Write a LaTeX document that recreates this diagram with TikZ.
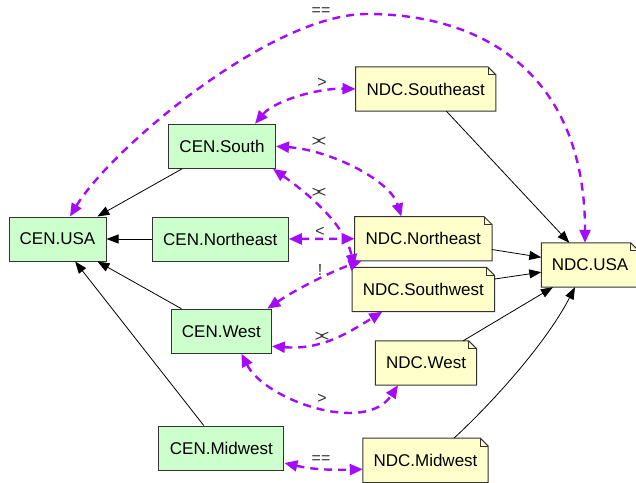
\documentclass[tikz,border=0pt]{standalone}
\usepackage{fontspec}
\setmainfont{Liberation Sans}
\usetikzlibrary{arrows.meta,backgrounds}
\definecolor{cenfill}{RGB}{204,255,204}
\definecolor{ndcfill}{RGB}{255,255,204}
\definecolor{relcol}{RGB}{165,10,250}
\definecolor{boxline}{RGB}{51,51,51}
\tikzset{
 base/.style={inner sep=0pt, minimum height=44pt, font=\fontsize{17}{20}\selectfont, text=black},
 cen/.style={base, rectangle, fill=cenfill, draw=boxline, line width=1pt},
 ndc/.style={base, rectangle},
 lab/.style={font=\fontsize{16}{19}\selectfont, text=black!80, inner sep=0pt},
 dep/.style={-{Triangle[length=12pt,width=9pt]}, line width=0.8pt, black},
 relx/.style={{Triangle[length=13pt,width=11pt]}-{Triangle[length=13pt,width=11pt]}, relcol, line width=2.4pt, dash pattern=on 8pt off 6pt},
}
\newcommand\notebg[1]{%
 \filldraw[fill=ndcfill, draw=boxline, line width=1pt, line join=miter]
   (#1.north west) -- ([xshift=-8pt]#1.north east) -- ([yshift=-8pt]#1.north east)
   -- (#1.south east) -- (#1.south west) -- cycle;
 \draw[boxline, line width=0.7pt] ([xshift=-8pt]#1.north east) -- ([xshift=-8pt,yshift=-8pt]#1.north east) -- ([yshift=-8pt]#1.north east);}
\newcommand\crossx{>\kern-0.28em<}
\begin{document}
\begin{tikzpicture}[x=1pt,y=-1pt]
\useasboundingbox (0,0) rectangle (636,482);
% CEN nodes
\node[cen, minimum width=97pt]  (cusa)   at (57.5,239) {CEN.USA};
\node[cen, minimum width=136pt] (cne)    at (220.3,239) {CEN.Northeast};
\node[cen, minimum width=107pt] (csouth) at (222,146.3) {CEN.South};
\node[cen, minimum width=100pt] (cwest)  at (221.4,331.2) {CEN.West};
\node[cen, minimum width=125pt] (cmid)   at (221.4,448) {CEN.Midwest};
% NDC nodes
\node[ndc, minimum width=140pt] (nse)   at (425.7,89) {NDC.Southeast};
\node[ndc, minimum width=137pt] (nne)   at (423.3,238.7) {NDC.Northeast};
\node[ndc, minimum width=142pt] (nsw)   at (423.3,289.5) {NDC.Southwest};
\node[ndc, minimum width=97pt]  (nusa)  at (590,265) {NDC.USA};
\node[ndc, minimum width=101pt] (nwest) at (426,363) {NDC.West};
\node[ndc, minimum width=125pt] (nmid)  at (425.5,460.3) {NDC.Midwest};
\begin{scope}[on background layer]
 \notebg{nse}\notebg{nne}\notebg{nsw}\notebg{nusa}\notebg{nwest}\notebg{nmid}
\end{scope}
% black dependency edges
\draw[dep] (csouth) -- (cusa);
\draw[dep] (cne) -- (cusa);
\draw[dep] (cwest) -- (cusa);
\draw[dep] (cmid) -- (cusa);
\draw[dep] (nse) -- (nusa);
\draw[dep] (nne) -- (nusa);
\draw[dep] (nsw) -- (nusa);
\draw[dep] (nwest) -- (nusa);
\draw[dep] ([xshift=28.5pt]nmid.north) .. controls (490,405) and (545,345) .. ([xshift=-15pt]nusa.south);
% purple relation edges
\draw[relx] ([xshift=12.5pt]cusa.north) .. controls (110,150) and (270,14) .. (367,14)
  .. controls (490,14) and (585,80) .. ([xshift=-5pt]nusa.north);
\draw[relx] ([xshift=33pt]csouth.north) .. controls (275,100) and (320,88) .. (nse.west);
\draw[relx] (csouth.east) .. controls (330,150) and (390,180) .. ([xshift=-22pt]nne.north);
\draw[relx] ([xshift=51pt]csouth.south) .. controls (310,195) and (345,225) .. ([xshift=2pt]nsw.north west);
\draw[relx] (cne.east) -- (nne.west);
\draw[relx] ([xshift=46pt]cwest.north) .. controls (295,290) and (330,272) .. ([xshift=7pt]nne.south west);
\draw[relx] ([yshift=-15pt]cwest.east) .. controls (320,350) and (345,335) .. ([xshift=-41pt]nsw.south);
\draw[relx] ([xshift=20pt]cwest.south) .. controls (265,400) and (365,435) .. ([xshift=-28pt]nwest.south);
\draw[relx] ([yshift=-15pt]cmid.east) .. controls (315,470) and (335,470) .. ([yshift=-9pt]nmid.west);
% labels
\node[lab] (l1) at (321,12) {==};
\node[lab] (l2) at (322,83) {>};
\node[lab] (l3) at (319,142) {\crossx};
\node[lab] (l4) at (319,193) {\crossx};
\node[lab] (l5) at (320,232) {<};
\node[lab] (l6) at (320,270) {!};
\node[lab] (l7) at (322,337) {\crossx};
\node[lab] (l8) at (322,399) {>};
\node[lab] (l9) at (321,460) {==};
\end{tikzpicture}
\end{document}
